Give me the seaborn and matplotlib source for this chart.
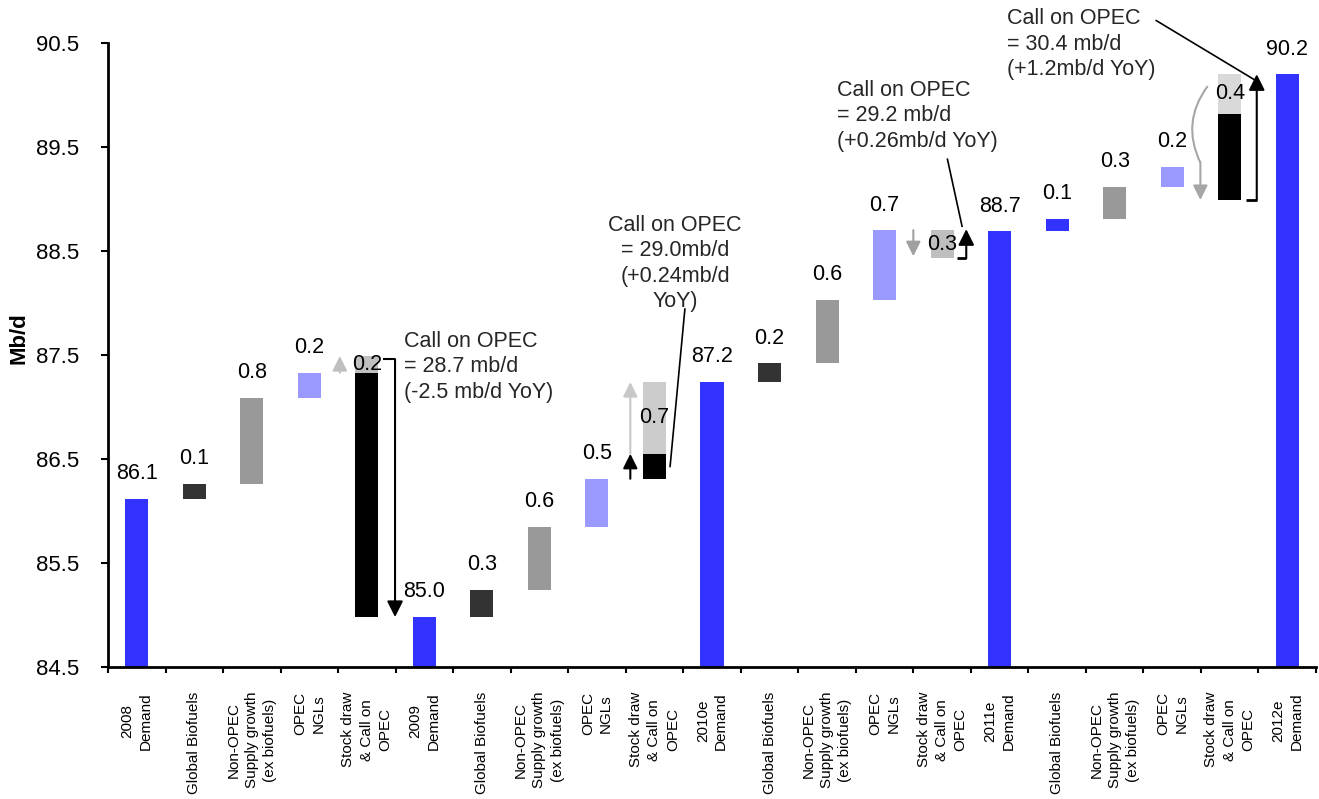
import numpy as np
import pandas as pd
import matplotlib
matplotlib.use("Agg")
import matplotlib.pyplot as plt
import seaborn as sns

sns.set_theme(style="white")
plt.rcParams["font.family"] = ["Liberation Sans", "DejaVu Sans"]

# ---- data -----------------------------------------------------------------
step_labels = [
    "Global Biofuels",
    "Non-OPEC\nSupply growth\n(ex biofuels)",
    "OPEC\nNGLs",
    "Stock draw\n& Call on\nOPEC",
]
demand_labels = ["2008\nDemand", "2009\nDemand", "2010e\nDemand",
                 "2011e\nDemand", "2012e\nDemand"]

demand = [86.12, 84.98, 87.24, 88.69, 90.20]        # mb/d
biofuels = [0.14, 0.26, 0.18, 0.12]
non_opec = [0.83, 0.61, 0.61, 0.31]
opec_ngls = [0.24, 0.46, 0.67, 0.19]
# stock draw (+) / stock build (-) shown in the last step of each bridge
stock_change = [0.16, 0.69, -0.27, 0.38]
# call-on-OPEC block in the last step of each bridge (nan = none drawn)
call_low = [84.98, 86.31, np.nan, 88.99]
call_high = [87.33, 86.55, np.nan, 89.82]

call_notes = [
    "Call on OPEC\n= 28.7 mb/d\n(-2.5 mb/d YoY)",
    "Call on OPEC\n= 29.0mb/d\n(+0.24mb/d\nYoY)",
    "Call on OPEC\n= 29.2 mb/d\n(+0.26mb/d YoY)",
    "Call on OPEC\n= 30.4 mb/d\n(+1.2mb/d YoY)",
]

BLUE, DARK, GREY, LILAC = "#3333FF", "#333333", "#999999", "#9999FF"
biofuel_colors = [DARK, DARK, DARK, BLUE]
stock_colors = ["#C0C0C0", "#CCCCCC", "#BFBFBF", "#D9D9D9"]

# ---- build the bar tables ---------------------------------------------------
categories, pos, low, height, colors, labels = [], [], [], [], [], []
s_pos, s_low, s_height, s_colors = [], [], [], []
ngl_top = []
for k in range(4):
    p = len(categories)
    categories.append(demand_labels[k])
    pos.append(p); low.append(0.0); height.append(demand[k]); colors.append(BLUE)
    labels.append((p, demand[k], demand[k]))
    level = demand[k]
    for val, col, name in ((biofuels[k], biofuel_colors[k], step_labels[0]),
                           (non_opec[k], GREY, step_labels[1]),
                           (opec_ngls[k], LILAC, step_labels[2])):
        p = len(categories)
        categories.append(name)
        pos.append(p); low.append(level); height.append(val); colors.append(col)
        level += val
        labels.append((p, level, val))
    ngl_top.append(level)
    p = len(categories)
    categories.append(step_labels[3])
    if np.isnan(call_low[k]):
        pos.append(p); low.append(level); height.append(0.0); colors.append("black")
        base = level
    else:
        pos.append(p); low.append(call_low[k])
        height.append(call_high[k] - call_low[k]); colors.append("black")
        base = call_high[k]
    s = stock_change[k]
    s_pos.append(p)
    s_low.append(base if s > 0 else base + s)
    s_height.append(abs(s))
    s_colors.append(stock_colors[k])

p = len(categories)
categories.append(demand_labels[4])
pos.append(p); low.append(0.0); height.append(demand[4]); colors.append(BLUE)
labels.append((p, demand[4], demand[4]))

main = pd.DataFrame({"pos": pos, "low": low, "height": height})
stock = pd.DataFrame({"pos": s_pos, "low": s_low, "height": s_height})
order = list(range(len(categories)))

# ---- figure -----------------------------------------------------------------
fig, ax = plt.subplots(figsize=(13.19, 7.99), dpi=100)
fig.subplots_adjust(left=108 / 1319, right=1316 / 1319,
                    bottom=1 - 667 / 799, top=1 - 43 / 799)

sns.barplot(data=main, x="pos", y="height", order=order, color=BLUE,
            bottom=main["low"].to_numpy(), width=0.4, errorbar=None,
            linewidth=0, ax=ax)
for bar, c in zip(ax.containers[-1], colors):
    bar.set_facecolor(c)
    bar.set_edgecolor(c)

sns.barplot(data=stock, x="pos", y="height", order=order, color=GREY,
            bottom=stock["low"].to_numpy(), width=0.4, errorbar=None,
            linewidth=0, ax=ax)
for bar, c in zip(ax.containers[-1], s_colors):
    bar.set_facecolor(c)
    bar.set_edgecolor(c)

ax.set_ylim(84.5, 90.5)
ax.set_xlim(-0.5, len(categories) - 0.5)

# value labels above the bars
FS = 15.5
LS = 1.27
for p, top, val in labels:
    ax.annotate(f"{val:.1f}", xy=(p, top), xytext=(0, 10.5),
                textcoords="offset points", ha="center", va="bottom",
                fontsize=FS, color="black")
# stock labels centred on their blocks
for p, lo, h in zip(s_pos, s_low, s_height):
    ax.text(p, lo + h / 2, f"{h:.1f}", ha="center", va="center",
            fontsize=FS, color="black", zorder=5)


def arrow(x0, y0, x1, y1, color="black", lw=1.5, ms=24, style="-|>", conn=None):
    props = dict(arrowstyle=style, color=color, lw=lw, mutation_scale=ms,
                 shrinkA=0, shrinkB=0)
    if conn:
        props["connectionstyle"] = conn
    ax.annotate("", xy=(x1, y1), xytext=(x0, y0), arrowprops=props,
                annotation_clip=False, zorder=6)


def line(xs, ys, color="black", lw=1.5):
    ax.plot(xs, ys, color=color, lw=lw, solid_capstyle="butt",
            clip_on=False, zorder=6)


# 2009 bridge
arrow(3.53, ngl_top[0], 3.53, ngl_top[0] + stock_change[0], color="#BFBFBF", ms=22)
line([4.28, 4.49], [87.46, 87.46])
arrow(4.49, 87.46, 4.49, demand[1])
ax.text(4.65, 87.385, call_notes[0], ha="left", va="center", fontsize=FS,
        linespacing=LS)

# 2010e bridge
arrow(8.58, ngl_top[1], 8.58, call_high[1], ms=22)
arrow(8.58, call_high[1], 8.58, call_high[1] + stock_change[1],
      color="#C8C8C8", ms=22)
ax.text(9.36, 88.38, call_notes[1], ha="center", va="center", fontsize=FS,
        linespacing=LS, multialignment="center")
line([9.53, 9.27], [87.95, 86.42], lw=1.2)

# 2011e bridge
arrow(13.5, ngl_top[2], 13.5, ngl_top[2] + stock_change[2] + 0.02,
      color="#A0A0A0", ms=22)
s3_low = ngl_top[2] + stock_change[2]
line([14.26, 14.42], [s3_low, s3_low], lw=2)
arrow(14.42, s3_low, 14.42, demand[3] + 0.02)
ax.text(12.18, 89.80, call_notes[2], ha="left", va="center", fontsize=FS,
        linespacing=LS)
line([14.09, 14.35], [89.39, 88.73], lw=1.2)

# 2012e bridge
arrow(18.61, 90.08, 18.49, 89.35, color="#A6A6A6", style="-",
      conn="arc3,rad=0.3")
arrow(18.49, 89.35, 18.49, call_low[3], color="#A6A6A6", ms=22)
line([19.29, 19.47], [call_low[3], call_low[3]], lw=2)
arrow(19.47, call_low[3], 19.47, demand[4])
ax.text(15.13, 90.49, call_notes[3], ha="left", va="center", fontsize=FS,
        linespacing=LS)
line([17.71, 19.48], [90.72, 90.13], lw=1.2)

# ---- axes styling -------------------------------------------------------------
for side in ("top", "right"):
    ax.spines[side].set_visible(False)
for side in ("left", "bottom"):
    ax.spines[side].set_visible(True)
    ax.spines[side].set_color("black")
    ax.spines[side].set_linewidth(2)

yt = np.arange(84.5, 90.51, 1.0)
ax.set_yticks(yt, [f"{v:.1f}" for v in yt])
ax.tick_params(axis="y", left=True, direction="out", length=5, width=1.5,
               color="black", pad=16, labelsize=16, labelcolor="black")

ax.set_xticks(np.arange(-0.5, len(categories), 1.0), [])
ax.set_xticks(order, categories, minor=True)
ax.tick_params(axis="x", which="major", bottom=True, direction="out",
               length=4, width=1.5, color="black")
ax.tick_params(axis="x", which="minor", bottom=True, length=0, pad=18,
               labelsize=11, labelrotation=90, labelcolor="black")
for t in ax.get_xticklabels(minor=True):
    t.set_multialignment("center")
    t.set_linespacing(1.4)

ax.set_xlabel("")
ax.set_ylabel("Mb/d", fontsize=16, fontweight="bold", color="black")
ax.yaxis.set_label_coords(-0.0646, 0.527)
ax.grid(False)

fig.savefig("out.png", dpi=100)
